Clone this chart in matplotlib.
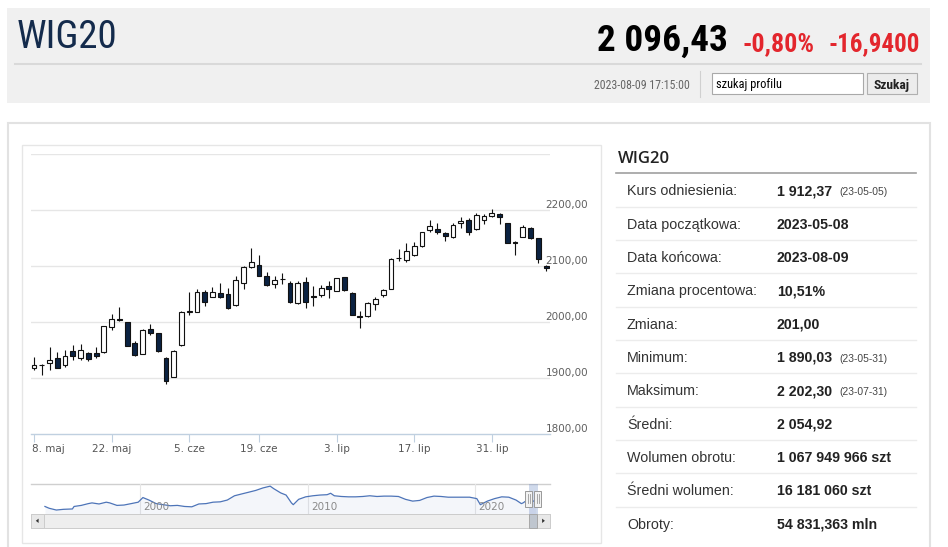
import matplotlib
matplotlib.use("Agg")
import matplotlib.pyplot as plt
from matplotlib import font_manager
from matplotlib.patches import Rectangle, Polygon

W, H = 948, 547

# ── data: daily candles 2023-05-08 .. 2023-08-09 ──
opens = [1919, 1924, 1927, 1936.5, 1923.5, 1949.5, 1937, 1946, 1945, 1947,
         1991, 2005.5, 2000.5, 1963, 1943.5, 1988, 1980, 1936.5, 1902, 1959,
         2019, 2018.5, 2054.5, 2046, 2052, 2050, 2030, 2070, 2098, 2103,
         2082.5, 2068, 2077, 2069.5, 2035, 2072.5, 2047, 2048, 2065.5, 2056.5,
         2080, 2053, 2011, 2010.5, 2032.5, 2048, 2059.5, 2115.5, 2112, 2121,
         2136, 2165, 2167, 2160, 2152.5, 2178, 2182, 2166, 2183, 2190,
         2194, 2176.5, 2143, 2153, 2169, 2150, 2100]
highs = [1937.5, 1926, 1955.5, 1946.5, 1951, 1959.5, 1962, 1946.5, 1955.5, 1994,
         2014, 2026.5, 2001, 1967, 1988, 1997, 1980.5, 1937.5, 1951, 2019.5,
         2054.5, 2059.5, 2057.5, 2062.5, 2069.5, 2060.5, 2083, 2101, 2132, 2120.5,
         2090, 2082, 2088.5, 2074, 2074, 2081, 2065.5, 2067, 2073, 2079.5,
         2080.5, 2053.5, 2020, 2037, 2045, 2059.5, 2114.5, 2131, 2142, 2143,
         2162, 2182.5, 2176.5, 2161, 2177, 2188.5, 2185.5, 2196, 2194, 2202.3,
         2194.5, 2177, 2145, 2173, 2170, 2150.5, 2102]
lows = [1915.5, 1906, 1914, 1918, 1921, 1933.5, 1933.5, 1930.5, 1936, 1946,
        1986, 2003, 1957, 1939, 1943, 1977.5, 1947, 1890, 1901.5, 1958.5,
        2013, 2018, 2028.5, 2044.5, 2043.5, 2023.5, 2029.5, 2059.5, 2097, 2082,
        2065.5, 2061.5, 2068, 2034.5, 2033, 2025.5, 2029.5, 2046, 2043, 2056,
        2056.5, 2012.5, 1989, 2009, 2022.5, 2046, 2059, 2109, 2108, 2119,
        2135, 2161.5, 2157, 2146, 2151, 2167.5, 2155.5, 2164.5, 2175, 2188.5,
        2176, 2141.5, 2120, 2151.5, 2149, 2106.5, 2092]
closes = [1924, 1923, 1933.5, 1919, 1940, 1940, 1950, 1935, 1940, 1993.5,
          2005, 2004.5, 1958.5, 1942, 1986, 1981, 1948, 1896, 1948, 2019,
          2021, 2054.5, 2037, 2053.5, 2044.5, 2025, 2076, 2098, 2108, 2083,
          2066.5, 2076, 2078, 2035.5, 2071, 2037, 2046, 2061, 2060, 2079,
          2057, 2013.5, 2010, 2034, 2041.5, 2057, 2113.5, 2114.5, 2127, 2136,
          2161.5, 2172, 2160.5, 2154, 2173.5, 2180, 2161.5, 2191.5, 2190, 2194.5,
          2188, 2142, 2141, 2171, 2151, 2113.4, 2096.4]

tick_idx = [0, 10, 20, 29, 39, 49, 59]
tick_labels = ["8. maj", "22. maj", "5. cze", "19. cze", "3. lip", "17. lip", "31. lip"]
y_grid = [1900, 2000, 2100, 2200, 2300]
y_labels = [1800, 1900, 2000, 2100, 2200]

# navigator: whole history of the index (approx. levels)
nav_years = [1994.32, 1994.57, 1995.0, 1995.43, 1995.96, 1996.06, 1996.49, 1996.91,
             1997.13, 1997.55, 1997.98, 1998.19, 1998.62, 1999.04, 1999.47, 1999.89,
             2000.17, 2000.53, 2000.96, 2001.38, 2001.81, 2002.23, 2002.66, 2003.09,
             2003.51, 2003.94, 2004.36, 2004.79, 2005.21, 2005.64, 2006.06, 2006.49,
             2006.91, 2007.34, 2007.77, 2007.98, 2008.40, 2008.72, 2009.04, 2009.15,
             2009.47, 2009.89, 2010.32, 2010.74, 2011.17, 2011.38, 2011.60, 2012.02,
             2012.45, 2012.87, 2013.30, 2013.72, 2014.15, 2014.57, 2015.0, 2015.43,
             2015.85, 2016.28, 2016.70, 2017.13, 2017.55, 2017.98, 2018.40, 2018.83,
             2019.26, 2019.68, 2020.11, 2020.32, 2020.74, 2021.17, 2021.60, 2022.02,
             2022.45, 2022.77, 2022.87, 2023.09, 2023.35, 2023.61]
nav_values = [1335, 1110, 885, 975, 1020, 1335, 1470, 1695,
              1785, 1650, 1875, 1785, 1470, 1515, 1695, 1875,
              2460, 2145, 1695, 1560, 1425, 1470, 1335, 1290,
              1650, 1695, 1875, 1920, 2145, 2685, 2910, 3135,
              3360, 3675, 3900, 3585, 3045, 2775, 1785, 1560,
              2235, 2550, 2685, 2775, 2820, 3000, 2685, 2595,
              2550, 2550, 2595, 2685, 2595, 2640, 2640, 2595,
              2235, 2010, 2100, 2460, 2640, 2595, 2505, 2505,
              2505, 2505, 2325, 1560, 2010, 2325, 2550, 2505,
              2145, 1695, 1785, 2100, 1912, 2096]
nav_ticks = [2000, 2010, 2020]
sel_start, sel_end = 2023.35, 2023.61

stat_labels = ["Kurs odniesienia:", "Data początkowa:", "Data końcowa:",
               "Zmiana procentowa:", "Zmiana:", "Minimum:", "Maksimum:",
               "Średni:", "Wolumen obrotu:", "Średni wolumen:", "Obroty:"]
stat_values = ["1 912,37", "2023-05-08", "2023-08-09", "10,51%", "201,00",
               "1 890,03", "2 202,30", "2 054,92", "1 067 949 966 szt",
               "16 181 060 szt", "54 831,363 mln"]
stat_notes = ["(23-05-05)", "", "", "", "", "(23-05-31)", "(23-07-31)", "", "", "", ""]

# ── fonts: look for a narrow face for the quote header ──
ARIAL = "Liberation Sans"
HC = "DejaVu Sans"
names = {f.name for f in font_manager.fontManager.ttflist}
COND = {"family": ARIAL}
for pref in ["Liberation Sans Narrow", "Roboto Condensed", "Open Sans Condensed",
             "Noto Sans Condensed", "DejaVu Sans Condensed"]:
    if pref in names:
        COND = {"family": pref}
        break
else:
    for f in font_manager.fontManager.ttflist:
        if str(f.stretch) in ("condensed", "semi-condensed") and f.name in ("DejaVu Sans", "Noto Sans", "Roboto"):
            COND = {"family": f.name, "stretch": f.stretch}
            break


def frac(x0, y0, x1, y1):
    return [x0 / W, 1 - y1 / H, (x1 - x0) / W, (y1 - y0) / H]


fig = plt.figure(figsize=(W / 100, H / 100), dpi=100)
fig.patch.set_facecolor("white")
renderer = fig.canvas.get_renderer()

bg = fig.add_axes([0, 0, 1, 1])
bg.set_xlim(0, W)
bg.set_ylim(H, 0)
bg.axis("off")


def fit(t, width_px, max_size):
    # shrink a header text to the width it has in the page
    w = t.get_window_extent(renderer).width
    t.set_fontsize(min(max_size, t.get_fontsize() * width_px / w))


# ── header ──
bg.add_patch(Rectangle((7, 8), 923, 95, fc="#f0f0f0", ec="none"))
bg.plot([15, 921], [64, 64], color="#d9d9d9", lw=1.5)
t = bg.text(17, 48, "WIG20", fontsize=28, color="#142b4c", va="baseline", **COND)
fit(t, 103, 28)
t = bg.text(728, 51, "2 096,43", fontsize=28, weight="bold",
            color="black", ha="right", va="baseline", **COND)
fit(t, 131, 28)
t = bg.text(743, 51, "-0,80%", fontsize=20, weight="bold",
            color="#e3262d", va="baseline", **COND)
fit(t, 72, 20)
t = bg.text(920, 51, "-16,9400", fontsize=20, weight="bold",
            color="#e3262d", ha="right", va="baseline", **COND)
fit(t, 91, 20)
t = bg.text(690, 89, "2023-08-09 17:15:00", fontsize=9,
            color="#666666", ha="right", va="baseline", **COND)
fit(t, 97, 9)
bg.plot([700, 700], [71, 97], color="#d0d0d0", lw=0.8)
bg.add_patch(Rectangle((712, 73), 151, 21, fc="white", ec="#a9a9a9", lw=0.8))
t = bg.text(716, 88, "szukaj profilu", fontsize=10, color="black", va="baseline", **COND)
fit(t, 66, 10)
bg.add_patch(Rectangle((867, 73), 50, 21, fc="#ececec", ec="#b0b0b0", lw=0.8))
t = bg.text(892, 88.5, "Szukaj", fontsize=10, weight="bold",
            color="#222222", ha="center", va="baseline", **COND)
fit(t, 36, 10)

# ── panels ──
bg.add_patch(Rectangle((8, 123), 922, 440, fc="white", ec="#e2e2e2", lw=1.5))
bg.add_patch(Rectangle((22, 145), 579, 398, fc="none", ec="#e6e6e6", lw=1))

# ── stats table ──
bg.text(618, 163.4, "WIG20", family="Open Sans", fontsize=12, weight="semibold",
        color="#222222", va="baseline")
bg.plot([616, 916], [172.7, 172.7], color="#a0a0a0", lw=1.2)
row_h = 33.33
for i, (lab, val, note) in enumerate(zip(stat_labels, stat_values, stat_notes)):
    base = 195.2 + i * row_h
    bg.text(627, base, lab, family=ARIAL, fontsize=10.3, color="#333333", va="baseline")
    bg.text(777, base, val, family=ARIAL, fontsize=10.2, weight="bold",
            color="#222222", va="baseline")
    if note:
        bg.text(839, base, note, family=ARIAL, fontsize=7.4, color="#444444", va="baseline")
    if i < len(stat_labels) - 1:
        sep = 206.7 + i * row_h
        bg.plot([616, 916], [sep, sep], color="#ececec", lw=1)

# ── candlestick chart ──
ax = fig.add_axes(frac(31, 154.3, 550, 434.3))
ax.set_facecolor("none")
ax.set_xlim(-0.39, 66.5)
ax.set_ylim(1800, 2300)
for s in ["top", "left", "right"]:
    ax.spines[s].set_visible(False)
ax.spines["bottom"].set_color("#C0D0E0")
ax.spines["bottom"].set_linewidth(1)
for v in y_grid:
    ax.axhline(v, color="#e6e6e6", lw=1, zorder=0)
ax.set_yticks([])
ax.set_xticks(tick_idx)
ax.set_xticklabels([])
ax.tick_params(axis="x", length=5.5, width=0.8, color="#C0D0E0")

xt = ax.get_xaxis_transform()
for k, (i, lab) in enumerate(zip(tick_idx, tick_labels)):
    ax.text(i - 0.2 if k == 0 else i, -0.063, lab, transform=xt,
            ha="left" if k == 0 else "center", va="baseline",
            family=HC, fontsize=7.5, color="#555555", clip_on=False)

yt = ax.get_yaxis_transform()
for v in y_labels:
    ax.text(0.9913, v + 3.5, f"{v},00", transform=yt, ha="left", va="baseline",
            family=HC, fontsize=7.5, color="#606060", clip_on=False, zorder=1)

idx = list(range(len(opens)))
ax.vlines(idx, lows, highs, color="#111111", lw=0.8, zorder=2)
for i in idx:
    o, c = opens[i], closes[i]
    up = c >= o
    ax.bar(i, max(abs(c - o), 0.6), bottom=min(o, c), width=0.62,
           color="white" if up else "#0b2242", edgecolor="#111111",
           linewidth=0.8, zorder=3)

# ── navigator ──
nav = fig.add_axes(frac(30.7, 484, 550, 513.6))
nav.set_facecolor("none")
nav.set_xlim(1993.47, 2024.48)
nav.set_ylim(435, 4170)
nav.axis("off")
for yr in nav_ticks:
    nav.axvline(yr, color="#e6e6e6", lw=0.8, zorder=0)
    nav.text(yr + 0.2, 0.12, str(yr), transform=nav.get_xaxis_transform(),
             family=HC, fontsize=7.5, color="#8a8a8a", va="baseline")
nav.fill_between(nav_years, nav_values, 435, color="#335cad", alpha=0.05, lw=0)
nav.plot(nav_years, nav_values, color="#4d74b8", lw=0.9)
bg.plot([30.7, 550], [484, 484], color="#cfcfcf", lw=1)

mid = (sel_start + sel_end) / 2
half = 0.27
nav.axvspan(mid - half, mid + half, color="#6685c2", alpha=0.3, lw=0, zorder=4)
nx = nav.get_xaxis_transform()
for hx in (mid - half, mid + half):
    nav.add_patch(Rectangle((hx - 0.2, 0.22), 0.4, 0.55, transform=nx,
                            fc="#f2f2f2", ec="#999999", lw=0.7, zorder=5))
    nav.plot([hx - 0.06, hx - 0.06], [0.35, 0.65], transform=nx, color="#999999", lw=0.6, zorder=6)
    nav.plot([hx + 0.06, hx + 0.06], [0.35, 0.65], transform=nx, color="#999999", lw=0.6, zorder=6)

# scrollbar
bg.add_patch(Rectangle((30.7, 513.6), 519.3, 14.4, fc="#eeeeee", ec="#cccccc", lw=0.7))
bg.add_patch(Rectangle((30.7, 513.6), 13, 14.4, fc="#e8e8e8", ec="#cccccc", lw=0.7))
bg.add_patch(Rectangle((537, 513.6), 13, 14.4, fc="#e8e8e8", ec="#cccccc", lw=0.7))
bg.add_patch(Polygon([(35.8, 520.8), (38.6, 518.6), (38.6, 523.0)], closed=True, fc="#333333"))
bg.add_patch(Polygon([(544.9, 520.8), (542.1, 518.6), (542.1, 523.0)], closed=True, fc="#333333"))
bg.add_patch(Rectangle((529, 513.6), 8.5, 14.4, fc="#bfc6cf", ec="#a8a8a8", lw=0.7))

fig.savefig("out.png", dpi=100, facecolor="white")
